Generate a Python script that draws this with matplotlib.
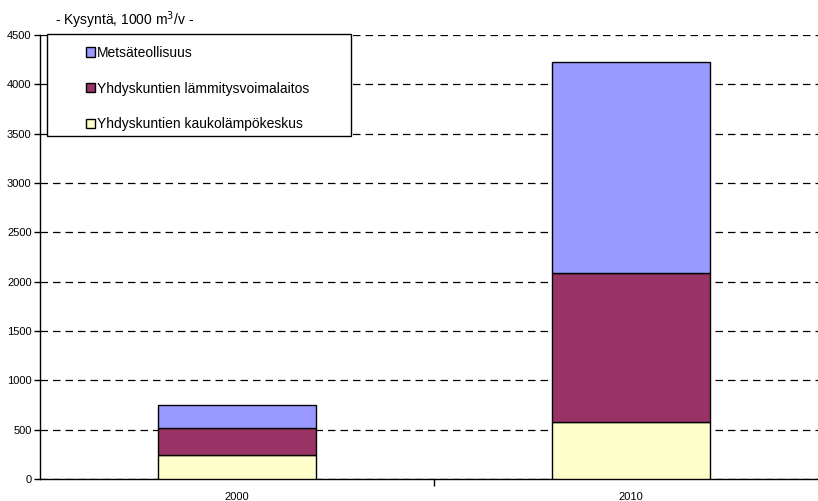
import matplotlib
matplotlib.use("Agg")
import matplotlib.pyplot as plt
from matplotlib.patches import Patch, Rectangle

plt.rcParams['font.family'] = ['Liberation Sans', 'DejaVu Sans']

years = ["2000", "2010"]
kaukolampo = [243, 577]       # Yhdyskuntien kaukolämpökeskus
lammitysvoima = [271, 1507]   # Yhdyskuntien lämmitysvoimalaitos
metsateollisuus = [233, 2138] # Metsäteollisuus

c_yellow = "#FFFFCC"
c_maroon = "#993366"
c_blue = "#9999FF"

W, H = 818, 501
fig = plt.figure(figsize=(W / 100, H / 100), dpi=100)
ax = fig.add_axes([40 / W, 22 / H, 788 / W, 444 / H])

x = range(len(years))
b1 = list(kaukolampo)
b2 = [a + b for a, b in zip(kaukolampo, lammitysvoima)]
ax.bar(x, kaukolampo, width=0.4, color=c_yellow, edgecolor="black", linewidth=1, zorder=3)
ax.bar(x, lammitysvoima, width=0.4, bottom=b1, color=c_maroon, edgecolor="black", linewidth=1, zorder=3)
ax.bar(x, metsateollisuus, width=0.4, bottom=b2, color=c_blue, edgecolor="black", linewidth=1, zorder=3)

ax.set_xlim(-0.5, 1.5)
ax.set_ylim(0, 4500)
ax.set_yticks(range(0, 4501, 500))
ax.set_xticks(list(x))
ax.set_xticklabels(years)
ax.set_xticks([0.5], minor=True)
ax.tick_params(axis="x", which="major", length=0, labelsize=8, pad=9)
ax.tick_params(axis="x", which="minor", length=5, width=1, direction="out")
ax.tick_params(axis="y", length=4, width=1, direction="out", labelsize=8, pad=2)

ax.yaxis.grid(True, color="black", linestyle=(0, (6, 4)), linewidth=0.9)
ax.set_axisbelow(True)
for side in ["top", "right"]:
    ax.spines[side].set_visible(False)
ax.spines["left"].set_linewidth(1)
ax.spines["bottom"].set_linewidth(1)

fig.text(55 / W, 1 - 20 / H, "- Kysyntä, 1000 m$^3$/v -", fontsize=10, va="center", ha="left")

# legend frame
fig.patches.append(Rectangle((47 / W, 1 - 136 / H), 304 / W, 102 / H,
                             transform=fig.transFigure, facecolor="white",
                             edgecolor="black", linewidth=1, zorder=5))

handles = [
    Patch(facecolor=c_blue, edgecolor="black", label="Metsäteollisuus"),
    Patch(facecolor=c_maroon, edgecolor="black", label="Yhdyskuntien lämmitysvoimalaitos"),
    Patch(facecolor=c_yellow, edgecolor="black", label="Yhdyskuntien kaukolämpökeskus"),
]
leg = fig.legend(handles=handles, loc="upper left",
                 bbox_to_anchor=(86 / W, 1 - 46 / H),
                 fontsize=10, frameon=False, borderaxespad=0, borderpad=0,
                 handlelength=0.65, handleheight=0.65, handletextpad=0.15,
                 labelspacing=1.55)
leg.set_zorder(6)

fig.savefig("out.png", dpi=100)
